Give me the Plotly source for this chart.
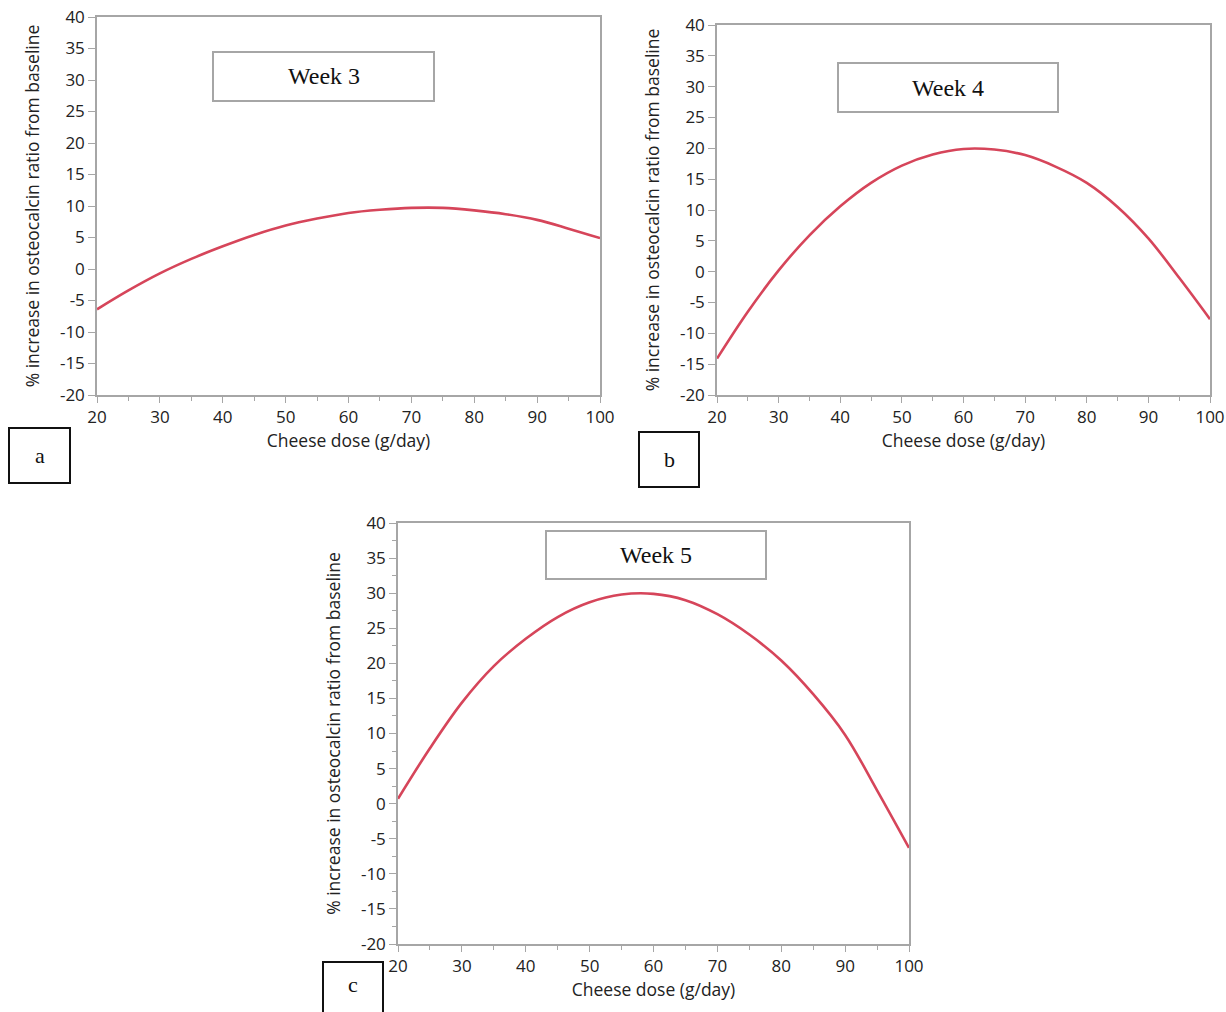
import plotly.graph_objects as go

W, H = 1226, 1012

dose = [20, 25, 30, 35, 40, 45, 50, 55, 60, 65, 70, 75, 80, 85, 90, 95, 100]
week3 = [-6.4, -3.4, -0.7, 1.6, 3.6, 5.4, 6.9, 8.0, 8.9, 9.4, 9.7, 9.7, 9.3, 8.7, 7.8, 6.4, 4.9]
week4 = [-14.1, -6.5, 0.2, 5.9, 10.6, 14.4, 17.2, 19.0, 19.9, 19.8, 18.9, 17.0, 14.4, 10.5, 5.4, -1.0, -7.7]
week5 = [0.7, 7.9, 14.4, 19.6, 23.5, 26.6, 28.7, 29.8, 29.9, 29.0, 27.0, 24.1, 20.4, 15.6, 9.8, 1.9, -6.3]

titles = ["Week 3", "Week 4", "Week 5"]
letters = ["a", "b", "c"]
x_title = "Cheese dose (g/day)"
y_title = "% increase in osteocalcin ratio from baseline"
x_ticks = [20, 30, 40, 50, 60, 70, 80, 90, 100]
y_ticks = [-20, -15, -10, -5, 0, 5, 10, 15, 20, 25, 30, 35, 40]
y_tick_text = ["-20", "-15", "-10", "-5", "0", "5", "10", "15", "20", "25", "30", "35", "40"]

# pixel layout of each panel: (left, right, top, bottom)
panels = [(97, 600, 17, 395), (717, 1210, 25, 395), (398, 909, 523, 944)]
title_boxes = [(213, 434, 52, 101), (838, 1058, 63, 112), (546, 766, 531, 579)]
letter_boxes = [(9, 70, 428, 483), (639, 699, 432, 487), (323, 383, 962, 1030)]
y_minor = [False, False, True]

px = lambda v: v / W
py = lambda v: 1 - v / H

LINE = "#d6455a"
AXC = "#a6a6a6"
FONT = "Open Sans, Noto Sans, sans-serif"

fig = go.Figure()
series = [week3, week4, week5]
layout = {}
shapes = []
annotations = []
for i, (ys, (l, r, t, b)) in enumerate(zip(series, panels)):
    n = "" if i == 0 else str(i + 1)
    fig.add_trace(go.Scatter(
        x=dose, y=ys, mode="lines", line=dict(color=LINE, width=2.6, shape="spline", smoothing=1.0),
        xaxis="x" + n, yaxis="y" + n, showlegend=False, hoverinfo="x+y"))
    layout["xaxis" + n] = dict(
        domain=[px(l), px(r)], anchor="y" + n, range=[20, 100], automargin=False,
        tickvals=x_ticks, ticks="outside", ticklen=6, tickcolor=AXC, tickwidth=1.3,
        minor=dict(dtick=5, ticks="outside", ticklen=4, tickcolor=AXC, tickwidth=1.3),
        showline=True, linecolor=AXC, linewidth=1.5, mirror=True, showgrid=False, zeroline=False,
        tickfont=dict(family=FONT, size=17, color="#222"),
        title=dict(text=x_title, font=dict(family=FONT, size=17.5, color="#222"), standoff=2),
    )
    ya = dict(
        domain=[py(b), py(t)], anchor="x" + n, range=[-20, 40], automargin=False,
        tickvals=y_ticks, ticktext=y_tick_text, ticks="outside", ticklen=7, tickcolor=AXC, tickwidth=1.3,
        showline=True, linecolor=AXC, linewidth=1.5, mirror=True, showgrid=False, zeroline=False,
        tickfont=dict(family=FONT, size=17, color="#222"),
        title=dict(text=y_title, font=dict(family=FONT, size=17.5, color="#222"), standoff=16),
    )
    if y_minor[i]:
        ya["minor"] = dict(dtick=2.5, ticks="outside", ticklen=4, tickcolor=AXC, tickwidth=1.3)
    layout["yaxis" + n] = ya

    bl, br, bt, bb = title_boxes[i]
    shapes.append(dict(type="rect", xref="paper", yref="paper", x0=px(bl), x1=px(br), y0=py(bb), y1=py(bt),
                       line=dict(color=AXC, width=2), fillcolor="white", layer="above"))
    annotations.append(dict(xref="paper", yref="paper", x=px((bl + br) / 2), y=py((bt + bb) / 2),
                            text=titles[i], showarrow=False, xanchor="center", yanchor="middle",
                            font=dict(family="Liberation Serif, Times New Roman, serif", size=24, color="#111")))
    ll, lr, lt, lb = letter_boxes[i]
    shapes.append(dict(type="rect", xref="paper", yref="paper", x0=px(ll), x1=px(lr), y0=py(lb), y1=py(lt),
                       line=dict(color="#111", width=2), fillcolor="rgba(0,0,0,0)", layer="above"))
    annotations.append(dict(xref="paper", yref="paper", x=px((ll + lr) / 2), y=py(min(lb, 1012) * 0.5 + lt * 0.5 - (3 if i == 2 else 0)),
                            text=letters[i], showarrow=False, xanchor="center", yanchor="middle",
                            font=dict(family="Liberation Serif, Times New Roman, serif", size=22, color="#111")))

fig.update_layout(
    width=W, height=H, margin=dict(l=0, r=0, t=0, b=0),
    paper_bgcolor="white", plot_bgcolor="white",
    shapes=shapes, annotations=annotations, **layout)

fig.write_html("out.html", config={"displayModeBar": False},
               post_script="document.body.style.margin='0';document.body.style.overflow='hidden';")
